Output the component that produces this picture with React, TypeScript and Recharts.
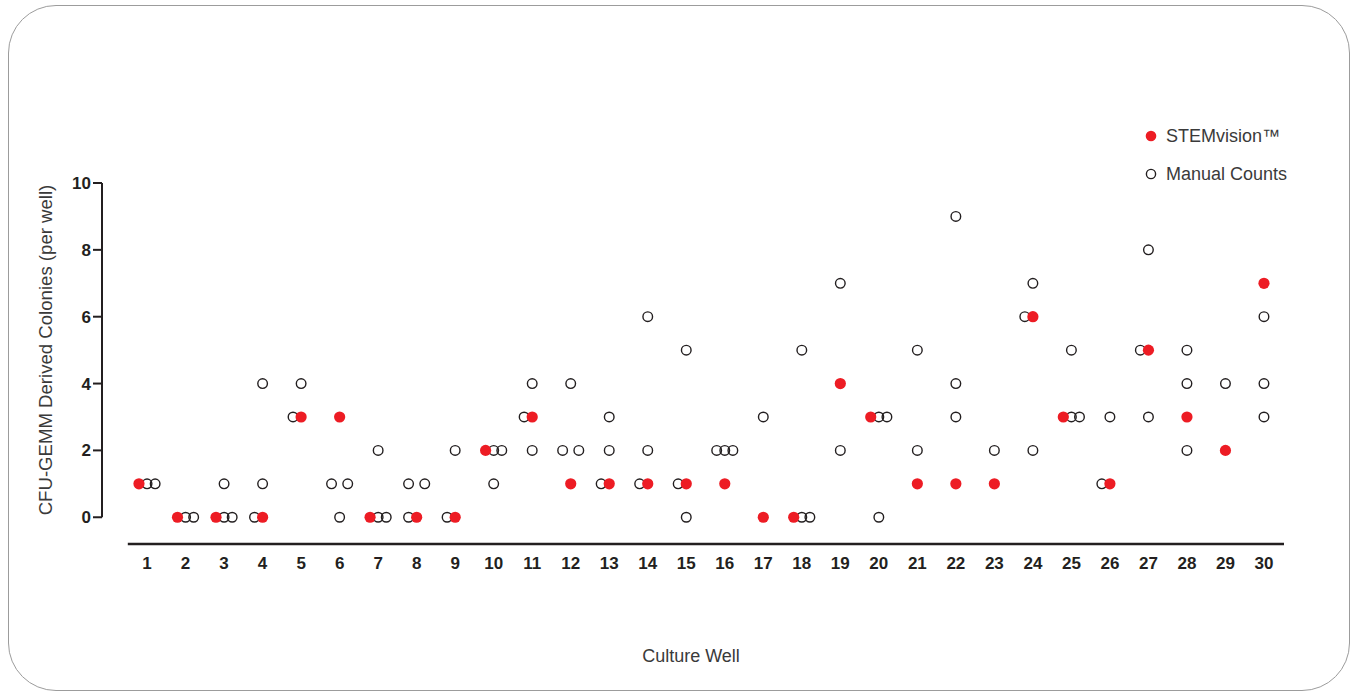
import React from 'react';
import { ScatterChart, Scatter, XAxis, YAxis, ReferenceLine, Legend } from 'recharts';

const wells = [
  1, 2, 3, 4, 5, 6, 7, 8, 9, 10, 11, 12, 13, 14, 15,
  16, 17, 18, 19, 20, 21, 22, 23, 24, 25, 26, 27, 28, 29, 30,
];

// STEMvision automated count, one per well
const stemvision = [1, 0, 0, 0, 3, 3, 0, 0, 0, 2, 3, 1, 1, 1, 1, 1, 0, 0, 4, 3, 1, 1, 1, 6, 3, 1, 5, 3, 2, 7];

// manual counts (up to three readers per well, null = not shown)
const manualRep1 = [1, 0, 1, 4, 4, 1, 2, 1, 2, 2, 4, 4, 3, 6, 5, 2, 3, 5, 7, 3, 5, 9, 2, 7, 5, 3, 8, 5, 4, 6];
const manualRep2 = [1, 0, 0, 1, 3, 1, 0, 1, 0, 2, 3, 2, 2, 2, 1, 2, null, 0, 2, 3, 2, 4, null, 6, 3, 1, 5, 4, null, 4];
const manualRep3 = [null, null, 0, 0, null, 0, 0, 0, null, 1, 2, 2, 1, 1, 0, 2, null, 0, null, 0, null, 3, null, 2, 3, null, 3, 2, null, 3];

const yTicks = [0, 2, 4, 6, 8, 10];

const INK = '#231f20';
const RED = '#ed1c24';
const TEXT = '#3a3a3a';
const FONT = '"Liberation Sans", Arial, sans-serif';

// horizontal spread (in well units) for points sharing a value in one well
const STEP = 0.21;

type Pt = { x: number; y: number; well: number };
type Item = { series: string; v: number };

// slot per point inside a group of equal values (column-scatter style)
const slotsFor = (group: Item[]) => {
  const n = group.length;
  if (n === 1) return [0];
  if (n === 2) {
    const mixed = group.some((g) => g.series === 'stem') && group.some((g) => g.series === 'manual');
    return mixed ? group.map((g) => (g.series === 'stem' ? 0 : -1)) : [-1, 1];
  }
  return group.map((_, k) => k - (n - 1) / 2);
};

const buildPoints = () => {
  const stem: Pt[] = [];
  const manual: Pt[] = [];
  wells.forEach((well, i) => {
    const items: Item[] = [{ series: 'stem', v: stemvision[i] }];
    [manualRep1[i], manualRep2[i], manualRep3[i]].forEach((v) => {
      if (v !== null) items.push({ series: 'manual', v });
    });
    const byValue = new Map<number, Item[]>();
    items.forEach((it) => byValue.set(it.v, [...(byValue.get(it.v) || []), it]));
    byValue.forEach((group, v) => {
      const slots = slotsFor(group);
      group.forEach((it, k) => {
        const p = { x: well + slots[k] * STEP, y: v, well };
        (it.series === 'stem' ? stem : manual).push(p);
      });
    });
  });
  return { stem, manual };
};

const { stem, manual } = buildPoints();

const RedDot = (props: any) => <circle cx={props.cx} cy={props.cy} r={5.6} fill={RED} />;
const OpenDot = (props: any) => (
  <circle cx={props.cx} cy={props.cy} r={4.8} fill="none" stroke={INK} strokeWidth={1.4} />
);

const CustomLegend = () => (
  <div style={{ fontFamily: FONT, fontSize: 18, color: TEXT }}>
    <div style={{ display: 'flex', alignItems: 'center', height: 38 }}>
      <svg width={12} height={12} style={{ marginRight: 9 }}>
        <circle cx={6} cy={6} r={5.3} fill={RED} />
      </svg>
      <span>STEMvision™</span>
    </div>
    <div style={{ display: 'flex', alignItems: 'center', height: 38 }}>
      <svg width={12} height={12} style={{ marginRight: 9 }}>
        <circle cx={6} cy={6} r={4.6} fill="none" stroke={INK} strokeWidth={1.4} />
      </svg>
      <span>Manual Counts</span>
    </div>
  </div>
);

export default function App() {
  return (
    <div style={{ position: 'fixed', left: 0, top: 0, width: 1351, height: 692, background: '#fff', fontFamily: FONT }}>
      <div
        style={{
          position: 'absolute',
          left: 8,
          top: 5,
          width: 1342,
          height: 686,
          boxSizing: 'border-box',
          border: '1.2px solid #9c9c9c',
          borderRadius: 48,
        }}
      />
      <div style={{ position: 'absolute', left: 0, top: 0 }}>
        <ScatterChart width={1351} height={692} margin={{ top: 183, right: 67, bottom: 22, left: 0 }}>
          <XAxis
            type="number"
            dataKey="x"
            domain={[-0.17, 30.52]}
            ticks={wells}
            interval={0}
            axisLine={false}
            tickLine={false}
            tickSize={6}
            tickMargin={7}
            height={126}
            tick={{ fill: INK, fontSize: 17, fontWeight: 700, fontFamily: FONT }}
            label={() => (
              <text x={691} y={662} textAnchor="middle" fill={TEXT} fontSize={18} fontFamily={FONT}>
                Culture Well
              </text>
            )}
          />
          <YAxis
            type="number"
            dataKey="y"
            domain={[-0.8, 10]}
            ticks={yTicks}
            interval={0}
            width={102}
            axisLine={false}
            tickLine={{ stroke: INK, strokeWidth: 2 }}
            tickSize={9}
            tickMargin={2}
            tick={{ fill: INK, fontSize: 17, fontWeight: 700, fontFamily: FONT }}
            label={() => (
              <text
                x={45}
                y={350}
                transform="rotate(-90 45 350)"
                textAnchor="middle"
                dominantBaseline="central"
                fill={TEXT}
                fontSize={18.6}
                fontFamily={FONT}
              >
                CFU-GEMM Derived Colonies (per well)
              </text>
            )}
          />
          <ReferenceLine
            segment={[{ x: -0.17, y: 0 }, { x: -0.17, y: 10 }]}
            stroke={INK}
            strokeWidth={2}
            ifOverflow="visible"
          />
          <ReferenceLine
            segment={[{ x: 0.5, y: -0.8 }, { x: 30.52, y: -0.8 }]}
            stroke={INK}
            strokeWidth={2.6}
            ifOverflow="visible"
          />
          <Legend
            layout="vertical"
            align="center"
            verticalAlign="middle"
            content={<CustomLegend />}
            wrapperStyle={{ left: 1145, top: 117, width: 200, height: 76 }}
          />
          <Scatter name="Manual Counts" data={manual} shape={<OpenDot />} isAnimationActive={false} />
          <Scatter name="STEMvision™" data={stem} shape={<RedDot />} isAnimationActive={false} />
        </ScatterChart>
      </div>
    </div>
  );
}
